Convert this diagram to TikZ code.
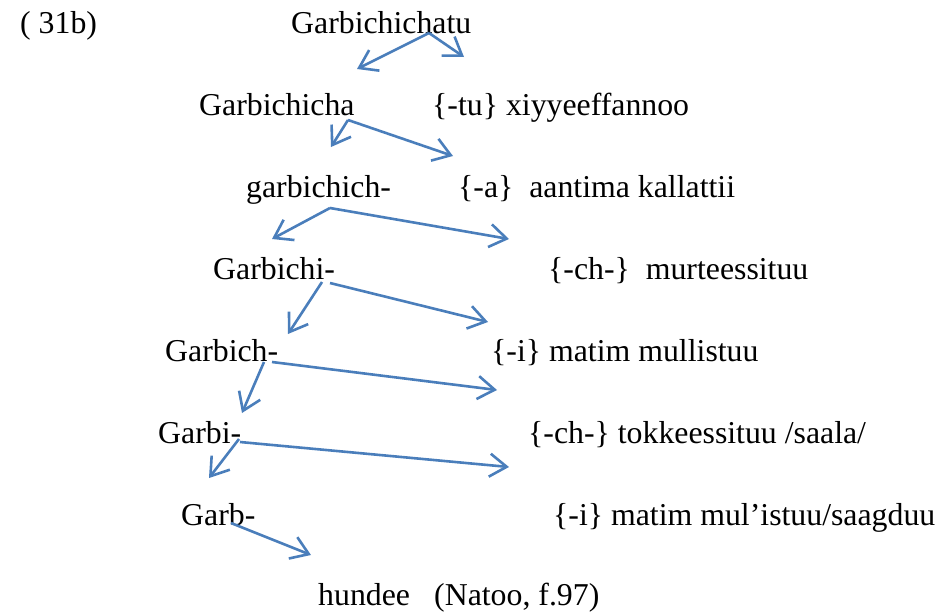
\documentclass[tikz,border=0pt]{standalone}
\usepackage{fontspec}
\setmainfont{Liberation Serif}
\usetikzlibrary{arrows.meta}
\definecolor{arrowblue}{RGB}{74,126,187}
\begin{document}
\begin{tikzpicture}[x=1pt,y=-1pt,
  txt/.style={anchor=base west,inner sep=0pt,font=\fontsize{31.8}{38}\selectfont},
  conn/.style={draw=arrowblue,line width=2.6pt,-{Straight Barb[length=17pt,width=23pt]}}]
\useasboundingbox (0,0) rectangle (942,613);
% texts
\node[txt] (lab) at (20,33) {( 31b)};
\node[txt] (w1) at (291,33) {Garbichichatu};
\node[txt] (w2) at (199,115) {Garbichicha};
\node[txt] (m2) at (432,115) {\{-tu\} xiyyeeffannoo};
\node[txt] (w3) at (246,197) {garbichich-};
\node[txt] (m3) at (458,197) {\{-a\}\ \ aantima kallattii};
\node[txt] (w4) at (213,279) {Garbichi-};
\node[txt] (m4) at (548,279) {\{-ch-\}\ \ murteessituu};
\node[txt] (w5) at (165,361) {Garbich-};
\node[txt] (m5) at (491,361) {\{-i\} matim mullistuu};
\node[txt] (w6) at (158,443) {Garbi-};
\node[txt] (m6) at (528,443) {\{-ch-\} tokkeessituu /saala/};
\node[txt] (w7) at (181,525) {Garb-};
\node[txt] (m7) at (553,525) {\{-i\} matim mul’istuu/saagduu};
\node[txt] (w8) at (318,605) {hundee};
\node[txt] (src) at (434,605) {(Natoo, f.97)};
% arrow ends
\coordinate (s1) at (429,33);
\coordinate (t1l) at (357,69);
\coordinate (t1r) at (464,57);
\coordinate (s2) at (348,120);
\coordinate (t2l) at (331,147);
\coordinate (t2r) at (453,156);
\coordinate (s3) at (330,208);
\coordinate (t3l) at (272,239);
\coordinate (t3r) at (509,239);
\coordinate (s4l) at (322,282);
\coordinate (t4l) at (288,334);
\coordinate (s4r) at (330,283);
\coordinate (t4r) at (488,322);
\coordinate (s5l) at (264,362);
\coordinate (t5l) at (242,413);
\coordinate (s5r) at (272,362);
\coordinate (t5r) at (497,390);
\coordinate (s6l) at (239,439);
\coordinate (t6l) at (209,478);
\coordinate (s6r) at (240,442);
\coordinate (t6r) at (509,467);
\coordinate (s7) at (231,523);
\coordinate (t7) at (311,555);
% connectors
\draw[conn] (s1) -- (t1l);
\draw[conn] (s1) -- (t1r);
\draw[conn] (s2) -- (t2l);
\draw[conn] (s2) -- (t2r);
\draw[conn] (s3) -- (t3l);
\draw[conn] (s3) -- (t3r);
\draw[conn] (s4l) -- (t4l);
\draw[conn] (s4r) -- (t4r);
\draw[conn] (s5l) -- (t5l);
\draw[conn] (s5r) -- (t5r);
\draw[conn] (s6l) -- (t6l);
\draw[conn] (s6r) -- (t6r);
\draw[conn] (s7) -- (t7);
\end{tikzpicture}
\end{document}
